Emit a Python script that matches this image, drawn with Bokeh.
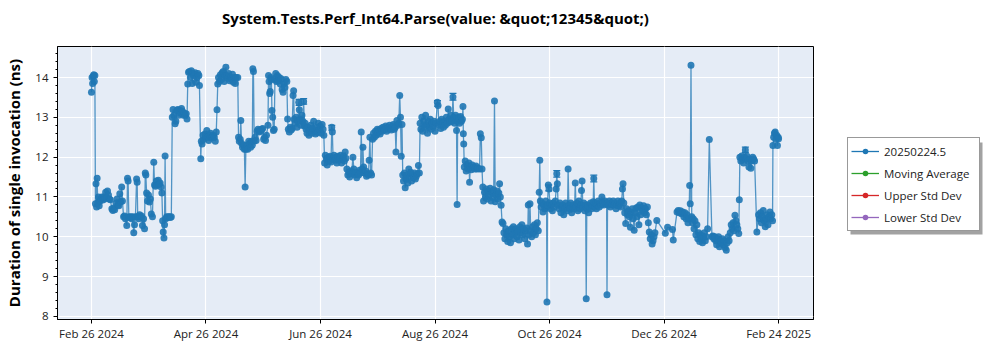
import numpy as np
from bokeh.plotting import figure
from bokeh.layouts import row
from bokeh.models import (Range1d, FixedTicker, ColumnDataSource, Legend, LegendItem, BoxAnnotation,
                          Whisker, TeeHead, Title)
from bokeh.embed import file_html
from bokeh.resources import INLINE

title_text = "System.Tests.Perf_Int64.Parse(value: &quot;12345&quot;)"
y_label = "Duration of single invocation (ns)"
x_tick_labels = ["Feb 26 2024", "Apr 26 2024", "Jun 26 2024", "Aug 26 2024",
                 "Oct 26 2024", "Dec 26 2024", "Feb 24 2025"]
series_names = ["20250224.5", "Moving Average", "Upper Std Dev", "Lower Std Dev"]
series_colors = ["#1f77b4", "#2ca02c", "#d62728", "#9467bd"]

# days since Feb 26 2024, duration in ns
days_febmar = [0.0, 0.3, 0.6, 0.9, 1.2, 1.5, 1.8,
               2.1, 2.4, 2.7, 3.0, 3.3, 3.7, 4.1, 4.5,
               5.0, 5.5, 6.0, 6.5, 7.0, 7.5, 8.0, 8.5, 9.0, 9.5, 10.0,
               10.8, 11.3, 11.8, 12.3,
               13.0, 13.5, 14.0, 14.5, 15.0, 15.5, 16.0, 16.4,
               17.0, 17.5, 18.0, 18.7, 19.1, 19.4,
               19.8, 20.3, 20.8, 21.3, 21.8, 22.4, 22.8,
               23.3, 23.9, 24.2, 24.5, 25.0, 25.5, 26.0, 26.5, 27.0, 27.6, 28.1,
               28.5, 28.8, 29.2, 29.7, 30.2, 30.7, 31.2, 31.7, 32.3,
               33.0, 33.4, 33.9, 34.4, 34.9, 35.4, 35.9, 36.4, 36.9, 37.3,
               37.7, 38.0, 38.4, 38.7, 39.0,
               39.3, 39.8, 40.3, 40.8, 41.3, 41.8, 42.3]
ns_febmar = [13.63, 14.0, 13.85, 14.03, 14.07, 13.9, 14.05,
             10.83, 11.33, 10.75, 11.47, 10.85, 11.0, 10.78, 10.9,
             10.95, 11.0, 10.92, 11.0, 10.95, 11.12, 10.98, 11.15, 11.05, 10.95, 10.93,
             10.7, 10.66, 10.72, 10.68,
             10.85, 10.95, 10.8, 10.78, 11.08, 10.88, 11.25, 10.9,
             10.5, 10.52, 10.45, 10.28, 11.47, 11.4,
             10.5, 10.48, 10.5, 10.45, 10.5, 10.1, 10.3,
             10.5, 11.45, 11.37, 10.5, 10.45, 10.55, 10.5, 10.52, 10.28, 10.45, 10.2,
             11.6, 11.55, 11.1, 10.9, 11.05, 10.87, 10.95, 10.57, 10.5,
             11.87, 11.3, 11.27, 11.4, 11.3, 11.42, 11.32, 11.35, 11.25, 11.1,
             10.4, 10.12, 9.97, 10.3, 12.03,
             10.45, 10.5, 10.48, 10.5, 10.5, 10.48, 10.5]

days_aprmay = [42.8, 43.2, 43.7, 44.3, 44.7, 45.2, 45.7, 46.2, 46.7, 47.2, 47.7, 48.2, 48.7, 49.2, 49.7, 50.2, 50.6,
               51.0, 51.4, 51.9, 52.4, 52.9, 53.4, 53.9, 54.4, 54.9, 55.4, 55.9, 56.4, 56.9, 57.2,
               57.9, 58.2, 58.6, 59.1, 59.6, 60.1, 60.6, 61.1, 61.6, 62.1, 62.6, 63.1, 63.6, 64.1, 64.6, 65.1, 65.6,
               66.1, 66.5, 66.9,
               67.3, 67.8, 68.3, 68.8, 69.3, 69.8, 70.3, 70.8, 71.2, 71.7, 72.2, 72.7, 73.2, 73.7, 74.2, 74.7, 75.2, 75.7, 76.2, 76.7, 77.5,
               77.9, 78.3, 78.8, 79.1, 79.5, 80.0, 80.5, 81.0, 81.4, 81.8, 82.3, 82.8, 83.3, 83.8, 84.3, 84.8]
ns_aprmay = [13.0, 13.2, 13.05, 12.84, 12.9, 13.17, 13.2, 13.05, 13.18, 13.1, 13.22, 13.15, 13.05, 13.1, 13.05, 13.09, 12.96,
             13.84, 14.13, 14.15, 14.0, 14.17, 13.85, 14.1, 14.05, 14.12, 13.88, 14.0, 14.1, 14.05, 13.8,
             11.96, 12.4, 12.33, 12.55, 12.45, 12.58, 12.5, 12.67, 12.5, 12.42, 12.55, 12.6, 12.48, 12.52, 12.55, 12.5, 12.4,
             12.63, 13.19, 13.84,
             14.0, 13.9, 14.07, 13.95, 14.12, 14.15, 13.9, 14.05, 14.26, 14.05, 13.98, 14.1, 13.92, 14.0, 13.95, 14.08, 13.88, 14.0, 13.85, 14.0, 14.0,
             12.5, 12.4, 12.45, 12.92, 12.35, 12.25, 12.3, 12.2, 11.25, 12.2, 12.3, 12.2, 12.4, 12.35, 12.25, 12.4]

days_mayjun = [85.2, 85.5, 85.8, 86.2,
               86.7, 87.2, 87.7, 88.2, 88.7, 89.2, 89.7, 90.2, 90.7, 91.2, 91.7, 92.2, 92.7,
               93.5, 93.8, 94.1, 94.4, 94.7, 95.0, 95.3, 95.6, 96.0, 96.4, 96.8,
               97.2, 97.6, 98.0, 98.5, 99.0, 99.5, 100.0, 100.5, 101.0, 101.5, 102.0, 102.5, 103.0, 103.5,
               103.9, 104.3, 104.8, 105.3, 105.8, 106.3, 106.8, 107.1, 107.4,
               107.9, 108.4, 108.9, 109.4, 109.8, 110.1, 110.5, 111.0, 111.5, 112.0, 112.4, 112.8, 113.2,
               113.7, 114.2, 114.7, 115.2, 115.7, 116.2, 116.7, 117.2, 117.7, 118.2, 118.7, 119.2, 119.7, 120.2, 120.7, 121.2, 121.7, 122.2, 122.7, 123.1]
ns_mayjun = [12.3, 14.22, 14.15, 12.4,
             12.5, 12.42, 12.65, 12.7, 12.63, 12.68, 12.65, 12.7, 12.72, 12.45, 12.5, 12.42, 12.55,
             12.8, 14.05, 13.9, 13.6, 13.65, 14.0, 13.95, 13.17, 13.0, 12.67, 12.7,
             13.95, 14.1, 13.9, 14.05, 13.92, 14.0, 13.84, 13.97, 13.7, 13.63, 13.85, 13.75, 13.95, 13.9,
             12.96, 12.7, 12.63, 12.75, 12.68, 12.72, 13.55, 13.67, 12.95,
             12.85, 13.0, 12.75, 12.9, 13.38, 13.19, 12.95, 12.8, 13.05, 12.9, 13.4, 12.78, 12.85,
             12.7, 12.6, 12.75, 12.55, 12.68, 12.8, 12.6, 12.72, 12.9, 12.65, 12.58, 12.75, 12.62, 12.85, 12.7, 12.78, 12.6, 12.82, 12.7, 12.55]

days_jul = [123.5, 123.9, 124.4, 124.9, 125.4, 125.9, 126.4, 126.9, 127.3, 127.6, 128.0, 128.5, 129.0, 129.5, 130.0, 130.5, 131.0, 131.5, 132.0, 132.5, 133.0, 133.5, 134.0, 134.4, 134.8,
            135.3, 135.8, 136.3, 136.8, 137.3, 137.8, 138.5, 139.0, 139.5, 140.0, 140.5, 141.0, 141.5, 142.0, 142.5, 142.9, 143.4, 143.8, 144.2, 144.7, 145.2, 145.7, 146.2, 146.7, 147.1, 147.5, 147.9, 148.4,
            148.9, 149.4, 149.9, 150.4, 150.9, 151.4, 151.9, 152.4, 152.9, 153.4, 153.9, 154.4, 154.9, 155.4, 155.9, 156.4, 156.9, 157.4, 157.9, 158.4, 158.9, 159.4, 159.9, 160.4, 160.9,
            161.3, 161.8, 162.3, 162.8, 163.3, 163.7, 164.1, 164.5,
            164.9, 165.3, 165.8, 166.2, 166.6, 167.1, 167.6, 168.1, 168.6, 169.1, 169.6, 170.1, 170.6, 171.1, 171.6, 172.1, 172.6, 173.2, 173.7]
ns_jul = [11.85, 12.05, 11.95, 11.8, 12.0, 11.9, 12.02, 11.88, 12.75, 12.63, 11.95, 12.05, 11.92, 12.0, 11.85, 12.02, 11.92, 11.97, 12.05, 11.85, 11.95, 12.03, 11.9, 12.13, 11.97,
          11.7, 11.55, 11.62, 11.5, 11.65, 11.58, 12.0, 11.7, 11.55, 11.62, 11.48, 11.6, 11.55, 11.67, 11.6, 12.63, 11.7, 12.25, 11.75, 11.6, 11.65, 11.52, 11.58, 11.55, 11.92, 12.5, 11.6, 11.55,
          12.45, 12.6, 12.5, 12.65, 12.55, 12.7, 12.62, 12.68, 12.58, 12.72, 12.65, 12.75, 12.68, 12.7, 12.78, 12.65, 12.75, 12.7, 12.8, 12.72, 12.68, 12.78, 12.82, 12.7, 12.75,
          12.13, 12.92, 12.8, 12.85, 13.55, 13.0, 12.02, 12.82,
          11.55, 11.4, 11.6, 11.23, 11.45, 11.55, 11.35, 11.7, 11.5, 11.62, 11.4, 11.55, 11.48, 11.6, 11.45, 11.52, 11.58, 11.79, 11.6]

days_aug = [174.1, 174.5, 175.0, 175.5, 176.0, 176.5, 177.0, 177.5, 178.0, 178.5, 179.0, 179.5, 180.0, 180.5, 181.0, 181.5, 182.0, 182.5, 183.2, 183.6, 184.0, 184.5, 185.0, 185.5, 186.0,
            186.5, 187.0, 187.5, 188.0, 188.5, 189.0, 189.5, 190.0, 190.5, 191.0, 191.5, 191.9, 192.4, 192.9, 193.4, 193.7, 194.0, 194.5, 195.0, 195.5, 196.0, 196.5, 196.8, 197.0, 197.2,
            197.5, 198.0, 198.5, 199.0, 199.5, 200.0, 200.3, 200.7, 201.2, 201.7, 202.2, 202.7, 203.2, 203.7, 204.2, 204.7,
            205.6, 206.0, 206.5, 206.9, 207.3, 207.7,
            208.2, 208.7, 209.2, 209.7, 210.2, 210.7, 211.2, 211.7, 212.2, 212.7, 213.1, 213.5, 213.9, 214.3, 214.8, 215.3, 215.8, 216.2, 216.6, 217.0]
ns_aug = [12.85, 12.7, 13.0, 12.65, 12.9, 12.75, 13.05, 12.8, 12.6, 12.9, 12.75, 12.95, 12.7, 12.85, 12.78, 12.9, 12.65, 12.85, 13.38, 13.3, 12.8, 12.9, 12.72, 12.95, 12.85,
          12.75, 12.9, 12.8, 13.0, 12.85, 13.21, 12.95, 12.88, 13.05, 12.9, 13.51, 13.0, 12.85, 13.05, 12.67, 10.81, 12.9, 13.0, 12.85, 13.02, 12.9, 12.95, 13.27, 12.59, 12.33,
          11.75, 11.9, 11.65, 11.8, 11.7, 11.85, 11.37, 11.75, 11.68, 11.8, 11.72, 11.75, 11.7, 11.78, 11.7, 11.73,
          11.7, 12.59, 12.49, 11.7, 11.25, 10.9,
          11.12, 11.0, 11.2, 10.95, 11.15, 11.05, 11.22, 10.9, 11.1, 11.0, 11.18, 13.41, 10.88, 11.05, 11.15, 10.95, 11.1, 11.33, 11.0, 10.79]

days_sepnov = [217.5, 218.0, 218.5, 219.0, 219.5, 220.0, 220.5, 221.0, 221.5, 222.0, 222.5, 223.0, 223.5, 224.0, 224.5, 225.0, 225.5, 226.0, 226.5, 227.0, 227.5, 228.0, 228.5, 229.0, 229.5, 230.0, 230.5,
               231.0, 231.4, 231.8, 232.3, 232.7, 233.2, 233.7, 234.2, 234.7, 235.2, 235.7, 236.2, 236.7,
               237.2, 237.5, 237.8, 238.2, 238.7, 239.2, 239.7, 240.2, 240.7, 241.1, 241.3, 241.6, 242.0, 242.4, 242.8, 243.2,
               243.7, 244.2, 244.7, 245.2, 245.7, 246.2, 246.5, 246.8, 247.2, 247.7, 248.2, 248.7, 249.2, 249.7, 250.2, 250.7, 251.2, 251.7, 252.2, 252.5,
               252.9, 253.4, 253.9, 254.4, 254.9, 255.4, 255.9, 256.3, 256.7, 257.2, 257.7, 258.2, 258.7, 259.2, 259.6, 259.9, 260.3, 260.8, 261.3, 261.8, 262.1, 262.4,
               262.9, 263.4, 263.9, 264.4, 264.9, 265.4, 265.8, 266.1, 266.5, 267.0, 267.5, 268.0, 268.5, 269.0, 269.5, 270.0, 270.4, 270.9, 271.4, 271.9, 272.4, 272.9, 273.1, 273.4,
               273.9, 274.4, 274.9, 275.4, 275.9, 276.4, 276.9, 277.4, 277.9, 278.4, 278.9, 279.4, 279.9, 280.4, 280.9, 281.3, 281.6, 282.0,
               282.5, 283.0, 283.5, 284.0, 284.5, 285.0, 285.5, 286.0, 286.5, 287.0, 287.5, 288.0, 288.5, 289.0]
ns_sepnov = [10.37, 10.33, 10.1, 9.95, 10.2, 10.05, 9.88, 10.15, 10.0, 9.85, 10.2, 10.05, 10.25, 9.95, 10.1, 10.2, 10.0, 10.15, 9.92, 10.25, 10.1, 10.3, 10.05, 10.2, 9.95, 10.15, 10.22,
             9.82, 10.8, 10.05, 10.83, 10.15, 10.0, 10.25, 10.1, 10.3, 10.05, 10.2, 10.35, 10.15,
             11.12, 11.92, 10.9, 10.75, 10.85, 10.62, 10.8, 10.7, 10.9, 10.75, 8.36, 10.8, 11.3, 11.2, 10.85, 10.7,
             10.8, 10.65, 10.85, 10.75, 10.9, 11.2, 11.58, 11.33, 10.8, 10.7, 10.85, 10.6, 10.75, 10.8, 10.55, 10.7, 10.85, 10.75, 10.65, 11.7,
             10.8, 10.7, 10.85, 10.6, 10.75, 10.8, 10.7, 11.35, 10.75, 10.85, 10.65, 10.9, 10.7, 10.8, 11.16, 11.4, 10.75, 10.85, 10.65, 10.8, 8.44, 10.7,
             10.8, 10.6, 10.75, 10.85, 10.7, 10.8, 10.88, 11.46, 10.75, 10.85, 10.7, 10.8, 10.9, 10.75, 10.85, 10.8, 11.0, 10.85, 10.8, 10.9, 10.85, 10.82, 8.54, 10.85,
             10.8, 10.9, 10.75, 10.85, 10.8, 10.9, 10.8, 10.85, 10.7, 10.8, 10.9, 10.78, 10.85, 10.75, 10.9, 11.2, 11.33, 10.85,
             10.6, 10.33, 10.7, 10.55, 10.65, 10.5, 10.24, 10.6, 10.7, 10.45, 10.16, 10.6, 10.72, 10.5]

days_decfeb = [289.5, 290.0, 290.5, 291.0, 291.5, 292.0, 292.5, 293.0, 293.5, 294.0, 294.5, 295.0,
               295.5, 296.0, 296.5, 297.0, 297.5, 298.0, 298.5, 299.5,
               304.0, 305.2, 307.8, 308.2,
               310.2, 310.8, 311.4, 312.0, 312.6, 313.2, 313.8, 314.4,
               315.0, 315.5, 316.0, 316.5, 316.9, 317.2, 317.6,
               318.0, 318.4, 318.8, 319.2, 319.7, 320.2, 320.7, 321.2, 321.7, 322.2, 322.7, 323.2, 323.7, 324.2, 324.7, 325.2, 325.7,
               326.4, 327.3,
               328.7, 329.2, 329.7, 330.2, 330.7, 331.2, 331.7, 332.2, 332.7, 333.2, 333.7, 334.2, 334.7, 335.2, 335.7, 336.3, 336.8, 337.3, 337.8,
               338.4, 338.9, 339.4, 339.9, 340.4, 340.9, 341.4, 341.9, 342.4, 342.9, 343.2,
               343.5, 344.0, 344.5, 345.0, 345.5, 346.0, 346.4, 346.8, 347.3, 347.8, 348.3, 348.8, 349.3, 349.8, 350.3, 350.8, 351.3,
               352.5,
               353.4, 353.9, 354.4, 354.9, 355.4, 355.9, 356.4, 356.9, 357.4, 357.9, 358.4, 358.9, 359.4, 359.9, 360.4, 360.8,
               361.0, 361.4, 361.8, 362.2, 362.6, 363.0, 363.4, 363.8, 364.0]
ns_decfeb = [10.75, 10.3, 10.8, 10.55, 10.72, 10.65, 10.78, 10.6, 10.7, 10.55, 10.75, 10.35,
             10.12, 9.95, 10.05, 9.82, 9.9, 10.0, 10.1, 10.41,
             10.09, 10.24, 10.18, 9.92,
             10.62, 10.66, 10.6, 10.65, 10.58, 10.62, 10.5, 10.6,
             10.45, 10.55, 10.35, 10.45, 11.29, 10.83, 14.31,
             10.5, 10.35, 10.45, 10.2, 10.4, 10.05, 10.3, 9.95, 10.1, 9.88, 10.05, 9.95, 9.85, 10.0, 10.1, 9.9, 10.0,
             10.2, 12.44,
             10.0, 10.02, 9.95, 10.0, 9.9, 9.8, 9.95, 10.0, 9.75, 9.9, 9.85, 9.95, 9.8, 9.9, 9.72, 9.66, 9.85, 10.0, 9.9,
             10.1, 10.3, 10.2, 10.35, 10.15, 10.54, 10.4, 10.3, 10.2, 10.08, 10.93,
             12.0, 11.9, 12.03, 11.95, 11.85, 12.0, 12.18, 11.95, 12.02, 11.9, 11.75, 11.95, 11.72, 11.9, 12.0, 11.95, 11.9,
             10.12,
             10.55, 10.45, 10.6, 10.35, 10.5, 10.66, 10.4, 10.25, 10.45, 10.55, 10.3, 10.5, 10.62, 10.45, 10.55, 10.4,
             12.29, 12.5, 12.6, 12.63, 12.45, 12.55, 12.29, 12.5, 12.46]

# visible error bars (day, lower, upper)
err_days = [110.0, 112.4, 127.3, 183.3, 191.5, 242.2, 246.5, 266.1, 346.4]
err_lower = [13.3, 13.33, 12.68, 13.28, 13.43, 11.15, 11.5, 11.38, 12.12]
err_upper = [13.45, 13.47, 12.8, 13.42, 13.6, 11.3, 11.66, 11.55, 12.25]

days = days_febmar + days_aprmay + days_mayjun + days_jul + days_aug + days_sepnov + days_decfeb
durations = ns_febmar + ns_aprmay + ns_mayjun + ns_jul + ns_aug + ns_sepnov + ns_decfeb
n = min(len(days), len(durations))
src = ColumnDataSource(dict(x=days[:n], y=durations[:n]))
err_src = ColumnDataSource(dict(x=err_days, lower=err_lower, upper=err_upper))

FONT = "Open Sans"
p = figure(width=830, height=350, output_backend="svg", toolbar_location=None, title=None,
           x_range=Range1d(-18.0, 382.5), y_range=Range1d(7.92, 14.78),
           min_border_left=57, min_border_right=17, min_border_top=46, min_border_bottom=31,
           background_fill_color="#e5ecf6", border_fill_color="white",
           outline_line_color="black", outline_line_width=1)

# small spacer between the frame and the title, then the title itself
p.add_layout(Title(text=" ", text_font_size="1px", standoff=14), "above")
p.add_layout(Title(text=title_text, align="center", vertical_align="bottom", text_font=FONT,
                   text_font_size="15px", text_font_style="bold", text_color="black", standoff=4), "above")

tick_pos = [i * 364 / 6 for i in range(len(x_tick_labels))]
p.xaxis.ticker = FixedTicker(ticks=tick_pos)
p.xaxis.major_label_overrides = {t: lab for t, lab in zip(tick_pos, x_tick_labels)}
p.yaxis.ticker = FixedTicker(ticks=list(range(8, 15)),
                             minor_ticks=[round(8 + 0.2 * k, 1) for k in range(0, 35)])

for ax in (p.xaxis[0], p.yaxis[0]):
    ax.axis_line_color = "black"
    ax.major_tick_line_color = "black"
    ax.major_tick_in = 0
    ax.major_tick_out = 4
    ax.major_label_text_font = FONT
    ax.major_label_text_font_size = "11.5px"
    ax.major_label_text_color = "#222222"
p.xaxis.major_label_standoff = 2
p.yaxis.major_label_standoff = 5
p.xaxis.minor_tick_line_color = None
p.yaxis.minor_tick_line_color = "black"
p.yaxis.minor_tick_in = 0
p.yaxis.minor_tick_out = 2
p.yaxis.axis_label = y_label
p.yaxis.axis_label_text_font = FONT
p.yaxis.axis_label_text_font_size = "15px"
p.yaxis.axis_label_text_font_style = "bold"
p.yaxis.axis_label_text_color = "black"
p.yaxis.axis_label_standoff = 8

p.xgrid.grid_line_color = "white"
p.ygrid.grid_line_color = "white"
p.xgrid.grid_line_width = 1.2
p.ygrid.grid_line_width = 1.2

p.line("x", "y", source=src, line_color=series_colors[0], line_width=1.3, line_alpha=0.75)
p.scatter("x", "y", source=src, size=7, fill_color=series_colors[0], line_color=None, fill_alpha=0.9)
p.add_layout(Whisker(base="x", lower="lower", upper="upper", source=err_src, dimension="height",
                     line_color=series_colors[0], line_width=1.3,
                     upper_head=TeeHead(size=7, line_color=series_colors[0], line_width=1.3),
                     lower_head=TeeHead(size=7, line_color=series_colors[0], line_width=1.3)))

# legend panel to the right of the chart (frame aligned with the chart's frame)
lfig = figure(width=170, height=350, output_backend="svg", toolbar_location=None, title=None,
              x_range=Range1d(0, 1), y_range=Range1d(0, 1),
              x_axis_location=None, y_axis_location=None,
              min_border_left=0, min_border_right=0, min_border_top=0, min_border_bottom=0,
              background_fill_color="white", border_fill_color="white", outline_line_color=None)
lfig.xgrid.visible = False
lfig.ygrid.visible = False

nan = float("nan")
items = []
for name, col in zip(series_names, series_colors):
    l = lfig.line([nan], [nan], line_color=col, line_width=1.3)
    s = lfig.scatter([nan], [nan], size=5, fill_color=col, line_color=None)
    items.append(LegendItem(label=name, renderers=[l, s]))

shadow = BoxAnnotation(left=20, right=152, bottom=85, top=177,
                       left_units="screen", right_units="screen", top_units="screen", bottom_units="screen",
                       fill_color="#7a7a7a", fill_alpha=0.7, line_color=None)
lfig.add_layout(shadow)

legend = Legend(items=items, location=(17, 88), orientation="vertical",
                label_text_font=FONT, label_text_font_size="11.5px", label_text_color="#222222",
                glyph_width=28, glyph_height=14, label_height=20, label_standoff=5,
                spacing=2, padding=3, margin=0, label_width=92,
                border_line_color="#333333", border_line_width=1,
                background_fill_color="white", background_fill_alpha=1.0)
lfig.add_layout(legend)

layout = row(p, lfig, spacing=0)
open("out.html", "w").write(file_html(layout, INLINE, title="chart"))
